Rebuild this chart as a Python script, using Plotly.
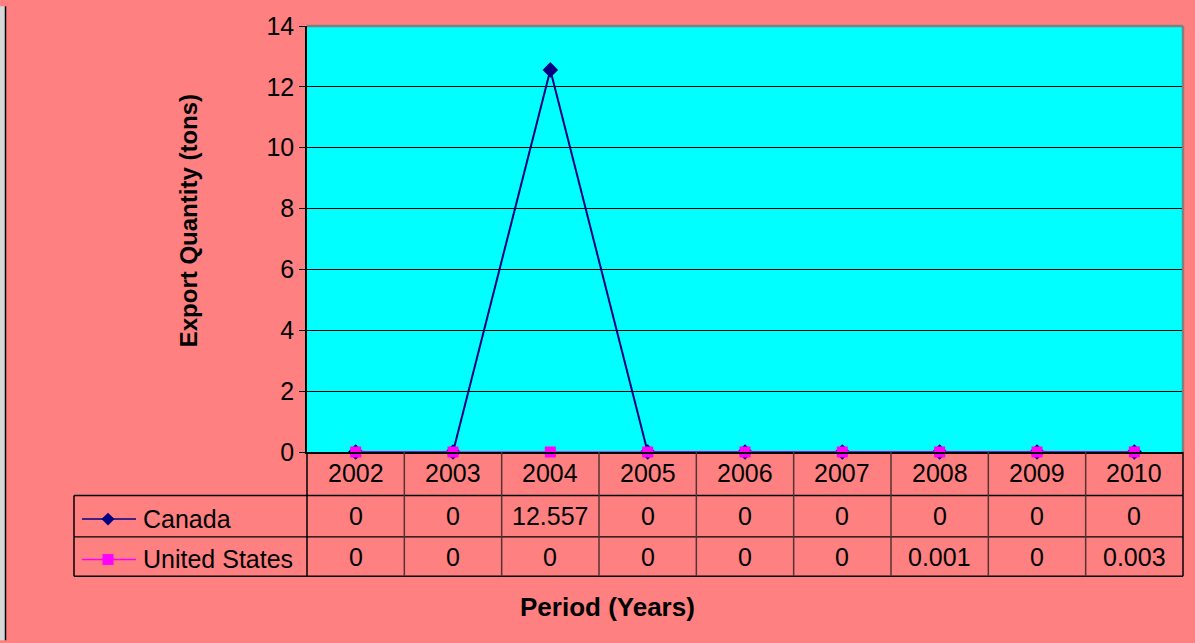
import plotly.graph_objects as go

years = ["2002", "2003", "2004", "2005", "2006", "2007", "2008", "2009", "2010"]
canada = [0, 0, 12.557, 0, 0, 0, 0, 0, 0]
united_states = [0, 0, 0, 0, 0, 0, 0.001, 0, 0.003]
series_names = ["Canada", "United States"]
y_ticks = [0, 2, 4, 6, 8, 10, 12, 14]

W, H = 1195, 643
L, R, T, B = 307, 1183, 20, 452
FONT = "Liberation Sans, Arial, sans-serif"
NAVY = "#000080"
MAG = "#FF00FF"
FS = 25


def px(X):
    return (X - L) / (R - L)


def py(Y):
    return (B - Y) / (B - T)


fig = go.Figure()
fig.add_trace(go.Scatter(x=years, y=canada, name=series_names[0], mode="lines+markers",
                         line=dict(color=NAVY, width=2),
                         marker=dict(symbol="diamond", size=12, color=NAVY),
                         cliponaxis=False))
fig.add_trace(go.Scatter(x=years, y=united_states, name=series_names[1], mode="lines+markers",
                         line=dict(color=MAG, width=1.5),
                         marker=dict(symbol="square", size=11, color=MAG),
                         cliponaxis=False))

shapes = []
annotations = []

# outer left edge
shapes.append(dict(type="rect", xref="paper", yref="paper", x0=px(0), x1=px(5), y0=py(0), y1=py(H),
                   fillcolor="#D8D8D8", line=dict(width=0), layer="above"))
shapes.append(dict(type="line", xref="paper", yref="paper", x0=px(5.5), x1=px(5.5), y0=py(0), y1=py(H),
                   line=dict(color="black", width=1.5), layer="above"))

# plot area gray border top/right
shapes.append(dict(type="line", xref="paper", yref="paper", x0=0, x1=1, y0=1, y1=1,
                   line=dict(color="#808080", width=2.5), layer="above"))
shapes.append(dict(type="line", xref="paper", yref="paper", x0=1, x1=1, y0=0, y1=1,
                   line=dict(color="#808080", width=2.5), layer="above"))

# table geometry
row_y = [452, 496, 538, 578]
table_left = 74
ncol = len(years)
colw = (R - L) / ncol

for k, wdt in [(1, 1.5), (2, 1.2), (3, 1.5)]:
    shapes.append(dict(type="line", xref="paper", yref="paper", x0=px(table_left), x1=1,
                       y0=py(row_y[k]), y1=py(row_y[k]), line=dict(color="black", width=wdt)))
shapes.append(dict(type="line", xref="paper", yref="paper", x0=px(table_left), x1=px(table_left),
                   y0=py(row_y[1]), y1=py(row_y[3]), line=dict(color="black", width=1.5)))
shapes.append(dict(type="line", xref="paper", yref="paper", x0=0, x1=0,
                   y0=py(row_y[0]), y1=py(row_y[3]), line=dict(color="black", width=1.5)))
shapes.append(dict(type="line", xref="paper", yref="paper", x0=1, x1=1,
                   y0=py(row_y[0]), y1=py(row_y[3]), line=dict(color="black", width=1.5)))
for i in range(1, ncol):
    xx = L + i * colw
    shapes.append(dict(type="line", xref="paper", yref="paper", x0=px(xx), x1=px(xx),
                       y0=py(row_y[0]), y1=py(row_y[3]), line=dict(color="#553333", width=1.5)))

# legend keys
key_y = [520, 561]
for name, color, ky, sym in [(series_names[0], NAVY, key_y[0], "diamond"),
                              (series_names[1], MAG, key_y[1], "square")]:
    shapes.append(dict(type="line", xref="paper", yref="paper", x0=px(82), x1=px(136),
                       y0=py(ky), y1=py(ky), line=dict(color=color, width=1.5)))
    cx = 108
    if sym == "diamond":
        d = 6.5
        path = (f"M {px(cx - d)} {py(ky)} L {px(cx)} {py(ky - d)} L {px(cx + d)} {py(ky)} "
                f"L {px(cx)} {py(ky + d)} Z")
        shapes.append(dict(type="path", xref="paper", yref="paper", path=path,
                           fillcolor=color, line=dict(color=color, width=0)))
    else:
        d = 5.5
        shapes.append(dict(type="rect", xref="paper", yref="paper", x0=px(cx - d), x1=px(cx + d),
                           y0=py(ky - d), y1=py(ky + d), fillcolor=color, line=dict(width=0)))
    annotations.append(dict(text=name, xref="paper", yref="paper", x=px(141), y=py(ky),
                            xanchor="left", yanchor="middle", showarrow=False,
                            font=dict(family=FONT, size=FS, color="black")))

# year labels and values
for i, yr in enumerate(years):
    cxp = px(L + (i + 0.5) * colw)
    annotations.append(dict(text=yr, xref="paper", yref="paper", x=cxp, y=py(473),
                            xanchor="center", yanchor="middle", showarrow=False,
                            font=dict(family=FONT, size=FS, color="black")))
    for vals, ry in [(canada, 517), (united_states, 558)]:
        annotations.append(dict(text=f"{vals[i]:g}", xref="paper", yref="paper", x=cxp, y=py(ry),
                                xanchor="center", yanchor="middle", showarrow=False,
                                font=dict(family=FONT, size=FS, color="black")))

# axis titles
annotations.append(dict(text="<b>Period (Years)</b>", xref="paper", yref="paper", x=px(607), y=py(609),
                        xanchor="center", yanchor="middle", showarrow=False,
                        font=dict(family=FONT, size=26, color="black")))
annotations.append(dict(text="<b>Export Quantity (tons)</b>", xref="paper", yref="paper", x=px(188),
                        y=py(218), xanchor="center", yanchor="middle", showarrow=False, textangle=-90,
                        font=dict(family=FONT, size=24, color="black")))

fig.update_layout(
    width=W, height=H,
    margin=dict(l=L, r=W - R, t=T, b=H - B, pad=0),
    paper_bgcolor="#FF8080",
    plot_bgcolor="#00FFFF",
    showlegend=False,
    shapes=shapes,
    annotations=annotations,
    xaxis=dict(type="category", range=[-0.5, 8.5], showticklabels=False, showgrid=False,
               zeroline=False, showline=True, linecolor="black", linewidth=1.5, ticks="", fixedrange=True),
    yaxis=dict(range=[0, 14], tickvals=y_ticks, showgrid=True, gridcolor="black", gridwidth=1,
               zeroline=False, showline=True, linecolor="black", linewidth=1.5,
               ticks="outside", ticklen=6, tickcolor="black", tickwidth=1,
               tickfont=dict(family=FONT, size=FS, color="black"), fixedrange=True),
)

fig.write_html("out.html", config={"displayModeBar": False},
               post_script="document.body.style.margin='0';document.body.style.overflow='hidden';")
